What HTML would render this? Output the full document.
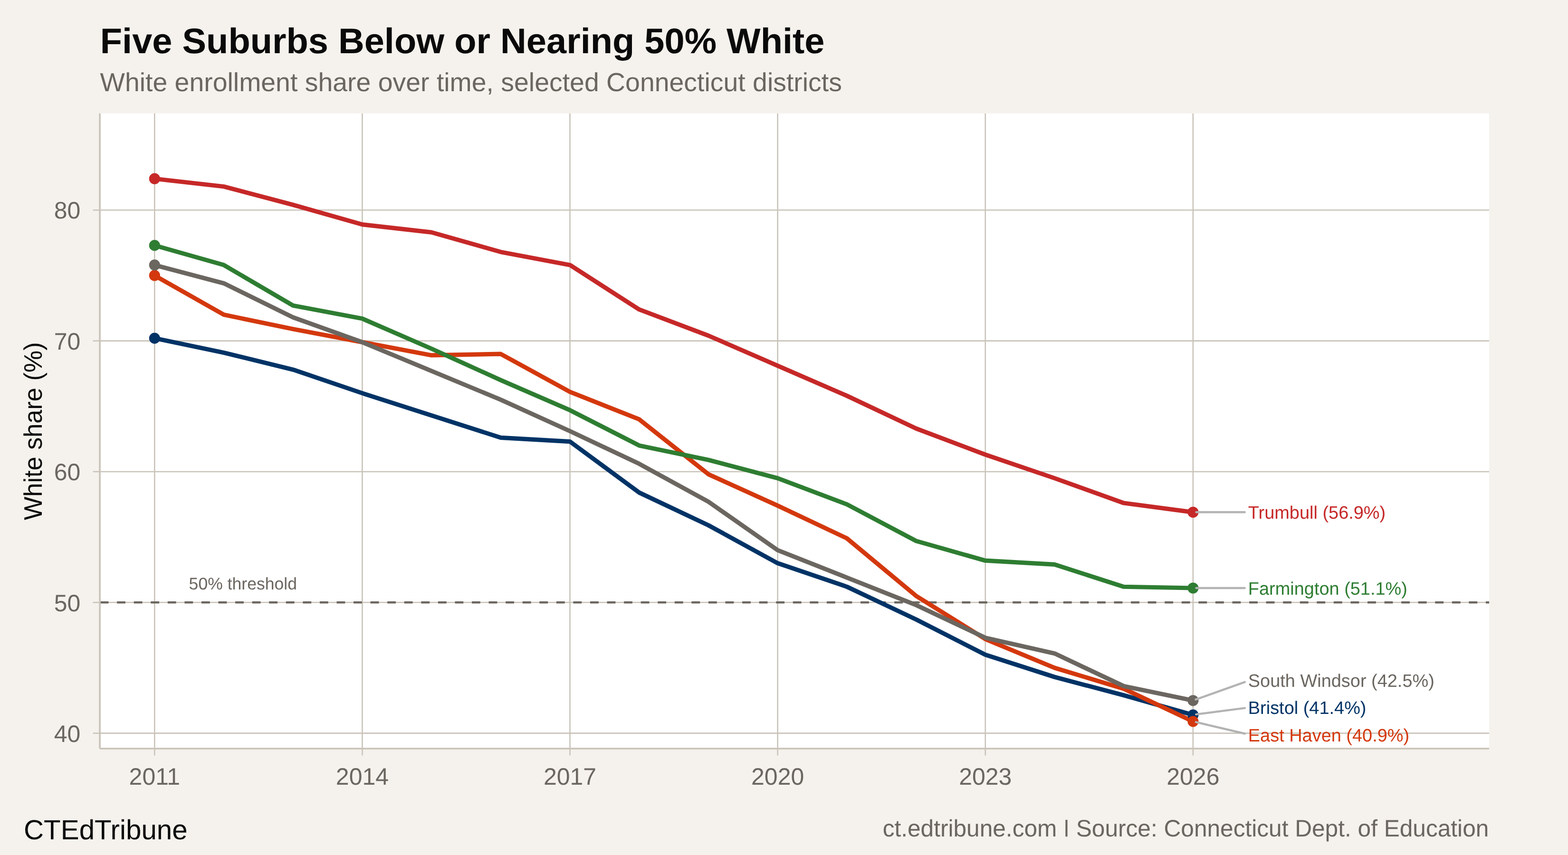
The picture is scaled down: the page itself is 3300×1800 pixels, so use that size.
<!DOCTYPE html>
<html lang="en"><head><meta charset="utf-8">
<title>Five Suburbs Below or Nearing 50% White</title>
<style>
html,body{margin:0;padding:0;background:#F5F2ED;}
body{width:3300px;height:1800px;overflow:hidden;}
svg{display:block;}
text{font-family:"Liberation Sans",sans-serif;text-rendering:geometricPrecision;}
.s{fill:none;stroke-width:9.2;stroke-linejoin:round;stroke-linecap:butt;}
.g{stroke:#C9C3B9;stroke-width:2.6;fill:none;}
.a{stroke:#C9C3B9;stroke-width:3.6;fill:none;}
.l{stroke:#B3B3B3;stroke-width:4.45;stroke-linecap:round;fill:none;}
</style></head><body>
<svg width="3300" height="1800" viewBox="0 0 3300 1800">
<rect x="0" y="0" width="3300" height="1800" fill="#F5F2ED"/>
<rect x="210.1" y="238.7" width="2923.95" height="1337.3" fill="#FFFFFF"/>
<g class="g">
<line x1="210.1" y1="442.29" x2="3134.05" y2="442.29"/>
<line x1="210.1" y1="717.63" x2="3134.05" y2="717.63"/>
<line x1="210.1" y1="992.97" x2="3134.05" y2="992.97"/>
<line x1="210.1" y1="1268.31" x2="3134.05" y2="1268.31"/>
<line x1="210.1" y1="1543.65" x2="3134.05" y2="1543.65"/>
<line x1="325.35" y1="238.7" x2="325.35" y2="1576"/>
<line x1="762.45" y1="238.7" x2="762.45" y2="1576"/>
<line x1="1199.55" y1="238.7" x2="1199.55" y2="1576"/>
<line x1="1636.65" y1="238.7" x2="1636.65" y2="1576"/>
<line x1="2073.75" y1="238.7" x2="2073.75" y2="1576"/>
<line x1="2510.85" y1="238.7" x2="2510.85" y2="1576"/>
</g>
<line x1="210.6" y1="1268.31" x2="3134.05" y2="1268.31" stroke="#6B6660" stroke-width="4.45" stroke-dasharray="17.783 17.783" fill="none"/>
<polyline class="s" stroke="#003366" points="325.35,712.12 471.05,742.41 616.75,778.2 762.45,827.76 908.15,874.57 1053.85,921.38 1199.55,929.64 1345.25,1037.02 1490.95,1105.86 1636.65,1185.71 1782.35,1235.27 1928.05,1304.1 2073.75,1378.44 2219.45,1425.25 2365.15,1463.8 2510.85,1505.1"/>
<polyline class="s" stroke="#D4380D" points="325.35,579.96 471.05,662.56 616.75,692.85 762.45,720.38 908.15,747.91 1053.85,745.16 1199.55,825.01 1345.25,882.83 1490.95,998.47 1636.65,1064.56 1782.35,1133.39 1928.05,1254.54 2073.75,1345.4 2219.45,1405.98 2365.15,1450.03 2510.85,1518.87"/>
<polyline class="s" stroke="#2E7D32" points="325.35,516.63 471.05,557.93 616.75,643.29 762.45,670.82 908.15,734.15 1053.85,800.23 1199.55,863.56 1345.25,937.9 1490.95,968.19 1636.65,1006.73 1782.35,1061.8 1928.05,1138.9 2073.75,1180.2 2219.45,1188.46 2365.15,1235.27 2510.85,1238.02"/>
<polyline class="s" stroke="#6B6660" points="325.35,557.93 471.05,596.48 616.75,668.07 762.45,720.38 908.15,780.96 1053.85,841.53 1199.55,907.61 1345.25,976.45 1490.95,1056.3 1636.65,1158.17 1782.35,1215.99 1928.05,1273.81 2073.75,1342.65 2219.45,1375.69 2365.15,1444.53 2510.85,1474.81"/>
<polyline class="s" stroke="#C62828" points="325.35,376.21 471.05,392.73 616.75,431.27 762.45,472.57 908.15,489.1 1053.85,530.4 1199.55,557.93 1345.25,651.55 1490.95,706.61 1636.65,769.94 1782.35,833.27 1928.05,902.11 2073.75,957.17 2219.45,1006.73 2365.15,1059.05 2510.85,1078.32"/>
<circle cx="325.35" cy="712.12" r="11.6" fill="#003366"/>
<circle cx="2510.85" cy="1505.1" r="11.6" fill="#003366"/>
<circle cx="325.35" cy="579.96" r="11.6" fill="#D4380D"/>
<circle cx="2510.85" cy="1518.87" r="11.6" fill="#D4380D"/>
<circle cx="325.35" cy="516.63" r="11.6" fill="#2E7D32"/>
<circle cx="2510.85" cy="1238.02" r="11.6" fill="#2E7D32"/>
<circle cx="325.35" cy="557.93" r="11.6" fill="#6B6660"/>
<circle cx="2510.85" cy="1474.81" r="11.6" fill="#6B6660"/>
<circle cx="325.35" cy="376.21" r="11.6" fill="#C62828"/>
<circle cx="2510.85" cy="1078.32" r="11.6" fill="#C62828"/>
<g class="l">
<line x1="2517.6" y1="1078.32" x2="2619.6" y2="1078.32"/>
<line x1="2517.6" y1="1238.02" x2="2619.6" y2="1238.02"/>
<line x1="2516.6" y1="1472.7" x2="2619.8" y2="1435.9"/>
<line x1="2517.3" y1="1503.9" x2="2619.8" y2="1490.6"/>
<line x1="2516.8" y1="1520.2" x2="2619.8" y2="1544.5"/>
</g>
<g class="a">
<line x1="210.1" y1="238.7" x2="210.1" y2="1576"/>
<line x1="210.1" y1="1576" x2="3134.05" y2="1576"/>
</g>
<g class="g">
<line x1="195.6" y1="442.29" x2="210.1" y2="442.29"/>
<line x1="195.6" y1="717.63" x2="210.1" y2="717.63"/>
<line x1="195.6" y1="992.97" x2="210.1" y2="992.97"/>
<line x1="195.6" y1="1268.31" x2="210.1" y2="1268.31"/>
<line x1="195.6" y1="1543.65" x2="210.1" y2="1543.65"/>
<line x1="325.35" y1="1576" x2="325.35" y2="1590.5"/>
<line x1="762.45" y1="1576" x2="762.45" y2="1590.5"/>
<line x1="1199.55" y1="1576" x2="1199.55" y2="1590.5"/>
<line x1="1636.65" y1="1576" x2="1636.65" y2="1590.5"/>
<line x1="2073.75" y1="1576" x2="2073.75" y2="1590.5"/>
<line x1="2510.85" y1="1576" x2="2510.85" y2="1590.5"/>
</g>
<text transform="translate(210.8 111.9) scale(1.0106 1.0000)" font-size="75" fill="#0A0A0A" font-weight="bold">Five Suburbs Below or Nearing 50% White</text>
<text transform="translate(210.6 191.7) scale(1.0074 1.0000)" font-size="55" fill="#6B6660">White enrollment share over time, selected Connecticut districts</text>
<text transform="translate(88 1095) rotate(-90) scale(0.9770 1.0000)" font-size="53.5" fill="#0A0A0A">White share (%)</text>
<text transform="translate(50 1766.9)" font-size="58.33" fill="#0A0A0A">CTEdTribune</text>
<text transform="translate(3133.3 1760.6) scale(0.9920 1.0000)" font-size="50" fill="#6B6660" text-anchor="end" xml:space="preserve">ct.edtribune.com <tspan font-size="36.5" dx="1.75" dy="-8.06" stroke="#6B6660" stroke-width="1.25">|</tspan><tspan dx="1.75" dy="8.06"> Source: Connecticut Dept. of Education</tspan></text>
<text transform="translate(397.6 1240.6)" font-size="35.57" fill="#6B6660">50% threshold</text>
<text transform="translate(2626.8 1092.2)" font-size="37.94" fill="#C62828">Trumbull (56.9%)</text>
<text transform="translate(2626.8 1252.2)" font-size="37.94" fill="#2E7D32">Farmington (51.1%)</text>
<text transform="translate(2626.8 1446.2)" font-size="37.94" fill="#6B6660">South Windsor (42.5%)</text>
<text transform="translate(2626.8 1503.1)" font-size="37.94" fill="#003366">Bristol (41.4%)</text>
<text transform="translate(2626.8 1561.3)" font-size="37.94" fill="#D4380D">East Haven (40.9%)</text>
<text transform="translate(169.4 460.49)" font-size="50" fill="#6B6660" text-anchor="end">80</text>
<text transform="translate(169.4 735.83)" font-size="50" fill="#6B6660" text-anchor="end">70</text>
<text transform="translate(169.4 1011.17)" font-size="50" fill="#6B6660" text-anchor="end">60</text>
<text transform="translate(169.4 1286.51)" font-size="50" fill="#6B6660" text-anchor="end">50</text>
<text transform="translate(169.4 1561.85)" font-size="50" fill="#6B6660" text-anchor="end">40</text>
<text transform="translate(325.35 1651.8)" font-size="50" fill="#6B6660" text-anchor="middle">2011</text>
<text transform="translate(762.45 1651.8)" font-size="50" fill="#6B6660" text-anchor="middle">2014</text>
<text transform="translate(1199.55 1651.8)" font-size="50" fill="#6B6660" text-anchor="middle">2017</text>
<text transform="translate(1636.65 1651.8)" font-size="50" fill="#6B6660" text-anchor="middle">2020</text>
<text transform="translate(2073.75 1651.8)" font-size="50" fill="#6B6660" text-anchor="middle">2023</text>
<text transform="translate(2510.85 1651.8)" font-size="50" fill="#6B6660" text-anchor="middle">2026</text>
</svg>
</body></html>
